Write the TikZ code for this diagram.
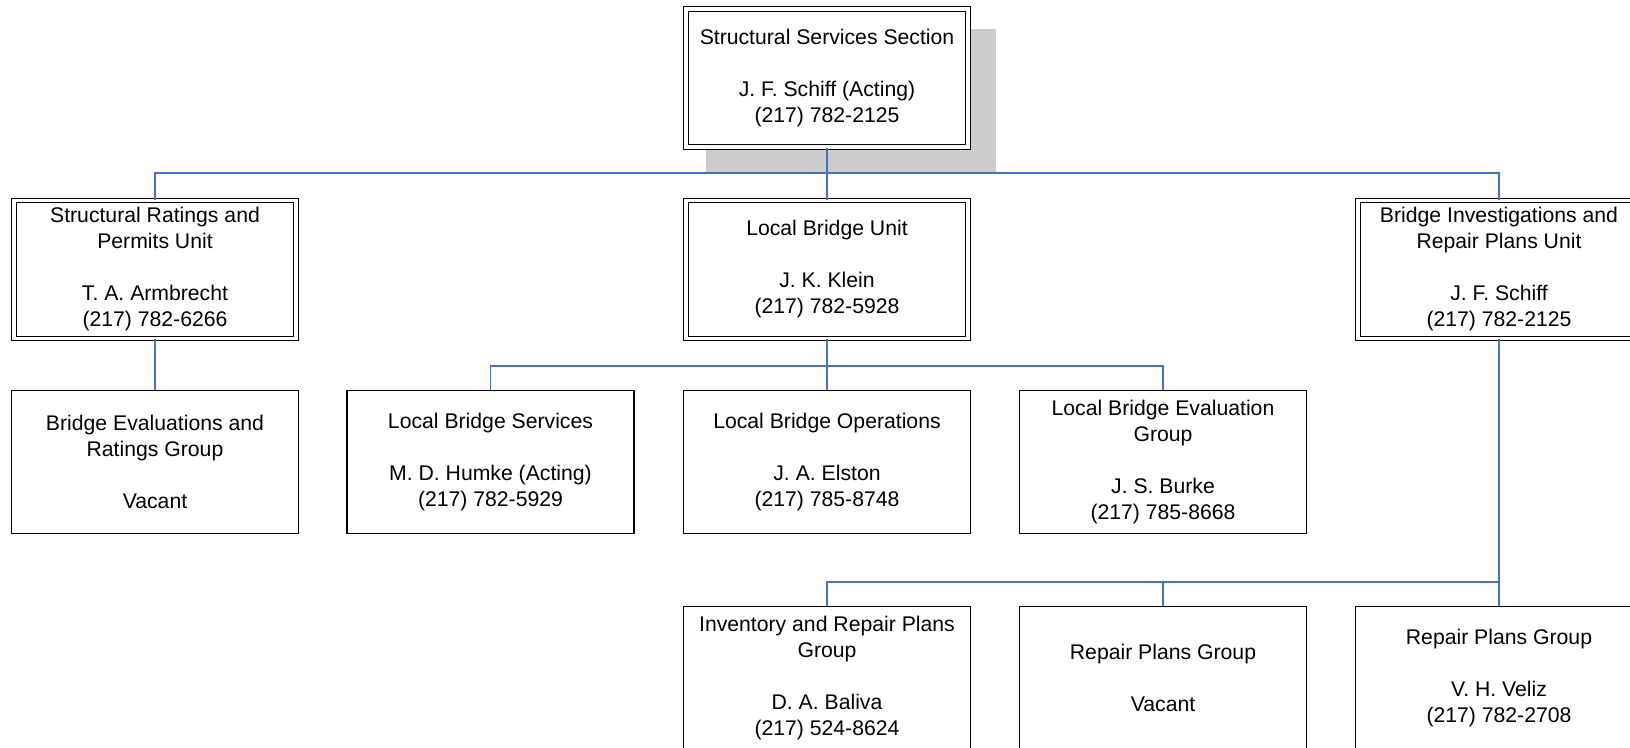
\documentclass[tikz,border=0pt]{standalone}
\usepackage{fontspec}
\setmainfont{Liberation Sans}
\definecolor{linkblue}{RGB}{68,114,196}
\definecolor{shadowgray}{RGB}{204,204,204}
\begin{document}
\begin{tikzpicture}[x=0.5pt,y=-0.5pt,
  box/.style={draw=black, line width=0.75pt, fill=white, align=center,
    minimum width=143.5pt, minimum height=71.5pt, inner sep=0pt,
    font=\fontsize{10.6}{13}\selectfont},
  dbox/.style={box, line width=0.55pt, double=white, double distance=1.7pt,
    minimum width=141pt, minimum height=69pt},
  conn/.style={draw=linkblue, line width=0.75pt}]
\clip (0,0) rectangle (1630,748);
\useasboundingbox (0,0) rectangle (1630,748);
% shadow of top box
\fill[shadowgray] (706,29) rectangle (996,173);
% nodes
\node[dbox] (top) at (827,78) {Structural Services Section\\[13pt]J. F. Schiff (Acting)\\(217) 782-2125};
\node[dbox] (ua) at (155,269.5) {Structural Ratings and\\Permits Unit\\[13pt]T. A. Armbrecht\\(217) 782-6266};
\node[dbox] (ub) at (827,269.5) {Local Bridge Unit\\[13pt]J. K. Klein\\(217) 782-5928};
\node[dbox] (uc) at (1499,269.5) {Bridge Investigations and\\Repair Plans Unit\\[13pt]J. F. Schiff\\(217) 782-2125};
\node[box] (ga) at (155,462) {Bridge Evaluations and\\Ratings Group\\[13pt]Vacant};
\node[box] (gb) at (490.5,462) {Local Bridge Services\\[13pt]M. D. Humke (Acting)\\(217) 782-5929};
\node[box] (gc) at (827,462) {Local Bridge Operations\\[13pt]J. A. Elston\\(217) 785-8748};
\node[box] (gd) at (1163,462) {Local Bridge Evaluation\\Group\\[13pt]J. S. Burke\\(217) 785-8668};
\node[box] (ha) at (827,678) {Inventory and Repair Plans\\Group\\[13pt]D. A. Baliva\\(217) 524-8624};
\node[box] (hb) at (1163,678) {Repair Plans Group\\[13pt]Vacant};
\node[box] (hc) at (1499,678) {Repair Plans Group\\[13pt]V. H. Veliz\\(217) 782-2708};
% junctions
\coordinate (j1) at (827,173);
\coordinate (j2) at (827,366);
\coordinate (j3) at (1499,582);
% connectors
\draw[conn] (top.south) -- (j1);
\draw[conn] (ua.north) |- (j1) -| (uc.north);
\draw[conn] (j1) -- (ub.north);
\draw[conn] (ua.south) -- (ga.north);
\draw[conn] (ub.south) -- (j2);
\draw[conn] (gb.north) |- (j2) -| (gd.north);
\draw[conn] (j2) -- (gc.north);
\draw[conn] (uc.south) -- (hc.north);
\draw[conn] (ha.north) |- (j3);
\draw[conn] (hb.north) -- (hb.north |- j3);
\end{tikzpicture}
\end{document}
